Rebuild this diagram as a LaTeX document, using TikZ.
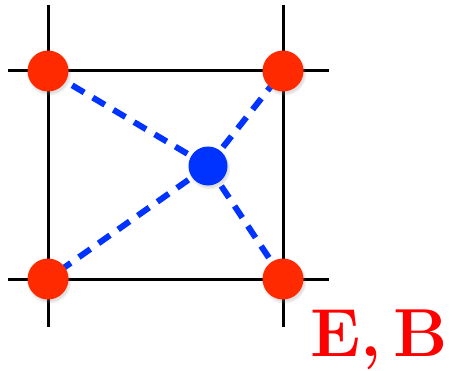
\documentclass[tikz,border=0pt]{standalone}
\usepackage{fontspec}
\usepackage{tikz}
\usetikzlibrary{shadows}
\definecolor{nodered} {HTML}{FF2A00}
\definecolor{partblue}{HTML}{0033FF}
\definecolor{labelred}{HTML}{FF0000}
\tikzset{
  gridline/.style ={draw=black, line width=3pt},
  fielddot/.style ={circle, fill=nodered, minimum size=41pt, inner sep=0pt,
                    circular drop shadow={shadow xshift=1pt, shadow yshift=-2pt, opacity=0.25}},
  partdot/.style  ={circle, fill=partblue, minimum size=39pt, inner sep=0pt,
                    circular drop shadow={shadow xshift=1pt, shadow yshift=-2pt, opacity=0.25}},
  interp/.style   ={draw=partblue, line width=6pt, dash pattern=on 14pt off 10pt},
}
\begin{document}
\begin{tikzpicture}[x=1pt,y=1pt]
    \useasboundingbox (0,0) rectangle (452,370);
    % Grid cell
    \draw[gridline] (48,365) -- (48,43);
    \draw[gridline] (283,365) -- (283,43);
    \draw[gridline] (7.5,299) -- (329,299);
    \draw[gridline] (7.5,91) -- (329,91);

    % Particle and grid nodes
    \coordinate (part) at (208,204);
    \coordinate (tl) at (48,299);
    \coordinate (tr) at (283,299);
    \coordinate (bl) at (48,91);
    \coordinate (br) at (283,91);

    \draw[interp] (part) -- (tl);
    \draw[interp] (part) -- (tr);
    \draw[interp] (part) -- (bl);
    \draw[interp] (part) -- (br);

    \node[fielddot] (ntl) at (tl) {};
    \node[fielddot] (ntr) at (tr) {};
    \node[fielddot] (nbl) at (bl) {};
    \node[fielddot] (nbr) at (br) {};
    \node[partdot] (npart) at (part) {};

    % Field label
    \node[anchor=base, text=labelred, inner sep=0pt,
          font=\fontsize{68}{68}\selectfont\bfseries] (fields) at (379,14) {E,\,B};
\end{tikzpicture}
\end{document}
